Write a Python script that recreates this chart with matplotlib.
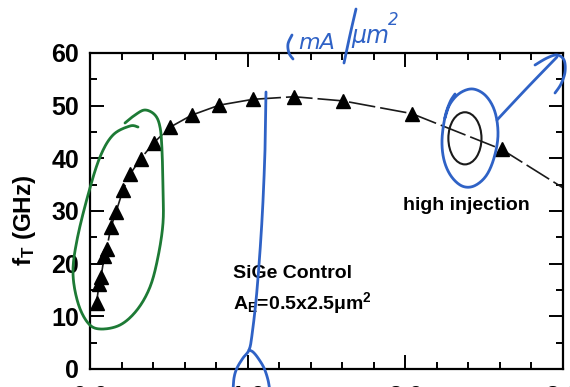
import numpy as np
import matplotlib
matplotlib.use("Agg")
import matplotlib.pyplot as plt
from matplotlib.lines import Line2D
from matplotlib.patches import Ellipse

# Current density (mA/um^2) and cutoff frequency fT (GHz)
jc = [0.042, 0.057, 0.070, 0.091, 0.106, 0.133, 0.165, 0.209, 0.254, 0.321,
      0.406, 0.507, 0.645, 0.820, 1.032, 1.294, 1.606, 2.040, 2.611]
ft = [12.6, 16.1, 17.5, 21.5, 22.8, 27.0, 29.8, 34.0, 37.0, 39.9,
      43.0, 45.9, 48.2, 50.1, 51.2, 51.7, 50.9, 48.5, 41.7]

# Trend line continues past the last measured point to the axis edge
trend_end_x = [3.0]
trend_end_y = [34.4]

x_ticks = [0.0, 1.0, 2.0, 3.0]
x_tick_labels = ["0.0", "1.0", "2.0", "3.0"]
y_ticks = [0, 10, 20, 30, 40, 50, 60]

W, H = 570, 387
DPI = 100

FAM = ["Liberation Sans", "DejaVu Sans"]
plt.rcParams["font.family"] = FAM
plt.rcParams["mathtext.fontset"] = "custom"
plt.rcParams["mathtext.rm"] = "Liberation Sans:bold"
plt.rcParams["mathtext.it"] = "Liberation Sans:bold"
plt.rcParams["mathtext.bf"] = "Liberation Sans:bold"

fig = plt.figure(figsize=(W / DPI, H / DPI), dpi=DPI)
ax = fig.add_axes([90 / W, 1 - 369 / H, (563 - 90) / W, (369 - 53) / H])

ax.set_xlim(0, 3)
ax.set_ylim(0, 60)

# dashed trend through the measured points
ax.plot(jc + trend_end_x, ft + trend_end_y, color="#1a1a1a", lw=1.2,
        dashes=(16, 3), zorder=2)
ax.plot(jc, ft, linestyle="none", marker="^", ms=9.5, color="black", zorder=3)

# high-injection marker ellipse
ax.add_patch(Ellipse((2.378, 43.8), 0.21, 9.9, fill=False, ec="#1a1a1a", lw=1.5, zorder=3))

ax.set_xticks(x_ticks)
ax.set_xticklabels(x_tick_labels)
ax.set_xticks(np.arange(0, 3.01, 0.2), minor=True)
ax.set_yticks(y_ticks)
ax.set_yticks(np.arange(0, 60.1, 5), minor=True)

ax.tick_params(which="both", direction="in", top=True, right=True, width=1.4,
               colors="black", labelsize=18)
ax.tick_params(which="major", length=10)
ax.tick_params(which="minor", length=5)
ax.tick_params(axis="y", which="major", pad=8)
ax.tick_params(axis="x", which="major", pad=11.5)
for lab in ax.get_xticklabels() + ax.get_yticklabels():
    lab.set_fontweight("bold")
for sp in ax.spines.values():
    sp.set_linewidth(1.6)

fig.text(25 / W, 1 - 220 / H, r"f$_\mathregular{T}$ (GHz)", rotation=90,
         ha="center", va="center", fontsize=17.5, fontweight="bold")

fig.text(233 / W, 1 - 274 / H, "SiGe Control", ha="left", va="center",
         fontsize=14, fontweight="bold")
fig.text(233 / W, 1 - 303 / H, r"A$_\mathregular{E}$=0.5x2.5$\mathregular{\mu}$m$^\mathregular{2}$",
         ha="left", va="center", fontsize=14, fontweight="bold")
fig.text(403 / W, 1 - 205 / H, "high injection", ha="left", va="center",
         fontsize=14, fontweight="bold")


# ---- hand-drawn pen marks, in pixel space of the page ----
def smooth(pts, n=16):
    p = np.asarray(pts, float)
    p = np.vstack([p[0], p, p[-1]])
    out = []
    for i in range(1, len(p) - 2):
        p0, p1, p2, p3 = p[i - 1], p[i], p[i + 1], p[i + 2]
        for t in np.linspace(0, 1, n, endpoint=False):
            t2, t3 = t * t, t * t * t
            out.append(0.5 * ((2 * p1) + (-p0 + p2) * t +
                              (2 * p0 - 5 * p1 + 4 * p2 - p3) * t2 +
                              (-p0 + 3 * p1 - 3 * p2 + p3) * t3))
    out.append(p[-2])
    return np.array(out)


def pen(pts, color, lw=2.0):
    s = smooth(pts)
    fig.add_artist(Line2D(s[:, 0] / W, 1 - s[:, 1] / H, transform=fig.transFigure,
                          color=color, lw=lw, solid_capstyle="round",
                          solid_joinstyle="round", zorder=10))


GREEN = "#1d7a35"
BLUE = "#2f62c6"

pen([(138, 127), (130, 126), (113, 135), (100, 157), (88, 195), (77, 240),
     (73, 273), (78, 303), (88, 323), (100, 329), (120, 325), (137, 310),
     (150, 287), (158, 257), (163, 223), (163, 190), (162, 150), (160, 127),
     (155, 115), (145, 110), (135, 115), (125, 123)], GREEN)

pen([(266, 92), (265, 150), (262, 220), (257, 290), (252, 335), (249, 350),
     (243, 358), (237, 368), (234, 378), (233, 392)], BLUE)
pen([(249, 350), (253, 352), (258, 358), (264, 368), (268, 380), (270, 392)], BLUE)

pen([(455, 94), (450, 102), (445, 117), (442, 140), (444, 160), (451, 176),
     (462, 186), (474, 186), (486, 176), (494, 158), (498, 135), (495, 112),
     (486, 96), (473, 89), (460, 93), (450, 104), (445, 118)], BLUE)
pen([(497, 120), (527, 88), (557, 57)], BLUE)
pen([(535, 65), (547, 58), (557, 55), (564, 60), (565, 72), (561, 84), (555, 93)], BLUE)

# handwritten unit note near 1 mA/um^2
pen([(292, 35), (288, 44), (289, 53), (293, 59)], BLUE)
fig.text(298 / W, 1 - 43 / H, "mA", ha="left", va="center", fontsize=16,
         color=BLUE, family="DejaVu Sans", style="italic")
pen([(356, 9), (350, 35), (344, 63)], BLUE)
fig.text(351 / W, 1 - 36 / H, "\u03bcm", ha="left", va="center", fontsize=17,
         color=BLUE, family="DejaVu Sans", style="italic")
fig.text(388 / W, 1 - 20 / H, "2", ha="left", va="center", fontsize=12,
         color=BLUE, family="DejaVu Sans", style="italic")

fig.savefig("out.png", dpi=DPI)
